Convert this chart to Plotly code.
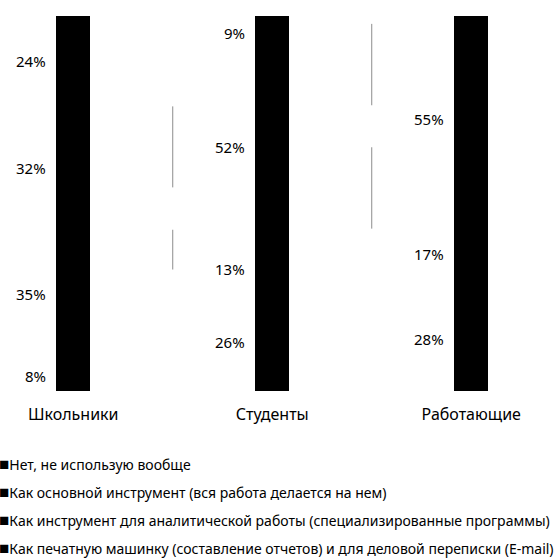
import plotly.graph_objects as go

categories = ["Школьники", "Студенты", "Работающие"]
series_names = [
    "Нет, не использую вообще",
    "Как основной инструмент (вся работа делается на нем)",
    "Как инструмент для аналитической работы (специализированные программы)",
    "Как печатную машинку (составление отчетов) и для деловой переписки (E-mail)",
]
# stacked bottom -> top
series_values = [
    [8, 26, 28],
    [35, 13, 17],
    [32, 52, 55],
    [24, 9, None],
]
# thin grey connector segments between bars (percent values)
connector_x = [0.5, 0.5, 1.5, 1.5]
connector_y = [[75.9, 54.3], [43.0, 32.4], [97.9, 76.2], [65.0, 43.3]]

FONT = "Noto Sans"
fig = go.Figure()
for name, vals in zip(series_names, series_values):
    fig.add_trace(go.Bar(
        x=list(range(len(categories))), y=[v if v is not None else 0 for v in vals],
        name=name, marker=dict(color="black", line=dict(width=0)),
        width=0.17, showlegend=False, hoverinfo="skip",
    ))

for xv, (y0, y1) in zip(connector_x, connector_y):
    fig.add_trace(go.Scatter(x=[xv, xv], y=[y0, y1], mode="lines",
                             line=dict(color="#8c8c8c", width=1),
                             showlegend=False, hoverinfo="skip"))

annotations = []
for ci in range(len(categories)):
    total = sum(s[ci] for s in series_values if s[ci] is not None)
    cum = 0
    for s in series_values:
        v = s[ci]
        if v is None:
            continue
        mid = (cum + v / 2) / total * 100
        cum += v
        annotations.append(dict(
            x=ci, y=mid, xref="x", yref="y", text=f"{v}%", showarrow=False,
            xanchor="right", yanchor="middle", xshift=-25,
            font=dict(family=FONT, size=15, color="black"),
        ))

for i, name in enumerate(series_names):
    py = 463 + i * 28.3
    annotations.append(dict(
        x=0, y=(391 - py) / 375, xref="paper", yref="paper",
        text="<span style='font-size:17px'>■</span>" + name, showarrow=False,
        xanchor="left", yanchor="middle", borderpad=0,
        xshift=-2, font=dict(family=FONT, size=14, color="black"),
    ))

fig.update_layout(
    barmode="stack", barnorm="percent",
    width=560, height=560,
    margin=dict(l=0, r=0, t=16, b=169),
    plot_bgcolor="white", paper_bgcolor="white",
    annotations=annotations,
    xaxis=dict(range=[-0.368, 2.446], tickvals=list(range(len(categories))),
               ticktext=categories, showgrid=False, zeroline=False,
               showline=False, ticks="", ticklabelstandoff=12,
               tickfont=dict(family=FONT, size=16, color="black")),
    yaxis=dict(range=[0, 100], visible=False, showgrid=False, zeroline=False),
    font=dict(family=FONT, color="black"),
)

fig.write_html("out.html", config={"displayModeBar": False},
               post_script="document.body.style.margin='0';document.body.style.overflow='hidden';")
